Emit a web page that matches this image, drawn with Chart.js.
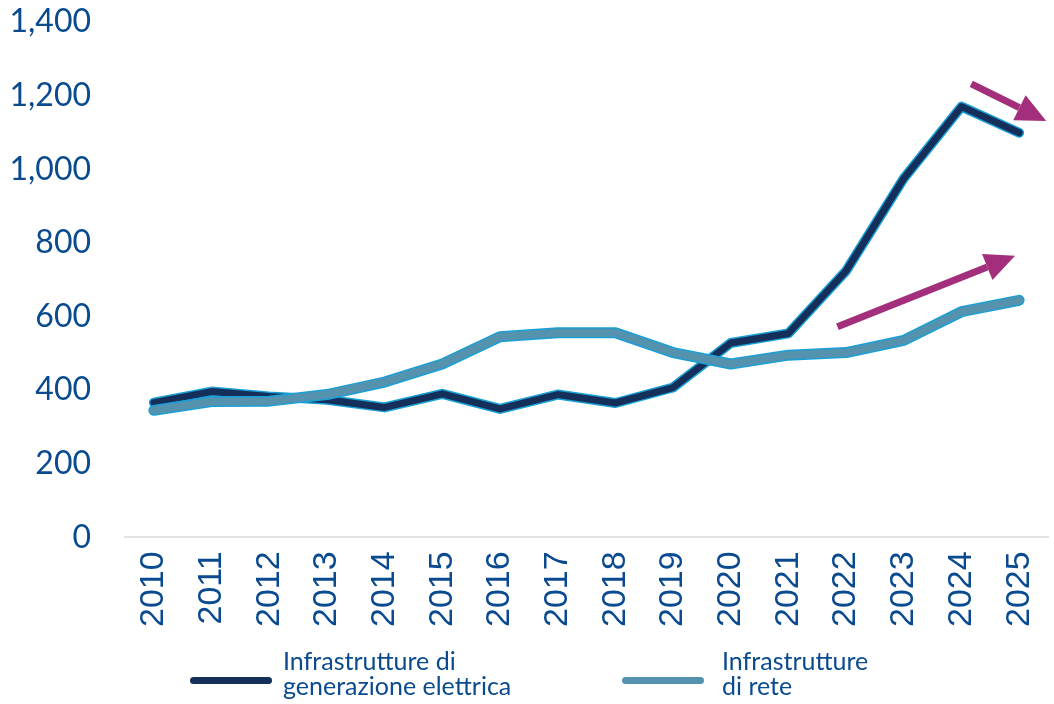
<!DOCTYPE html>
<html>
<head>
<meta charset="utf-8">
<script src="https://cdn.jsdelivr.net/npm/chart.js@4.4.1/dist/chart.umd.min.js"></script>
<style>
  html, body { margin: 0; padding: 0; background: #fff; }
  #wrap { position: relative; width: 1054px; height: 704px; }
  #chart { position: absolute; left: 0; top: 0; }
  .legend { position: absolute; top: 648px; font-family: Lato, "Open Sans", sans-serif; font-size: 25px; line-height: 25px; color: #0a4a8f; }
  .legend .swatch { position: absolute; width: 82px; height: 7px; border-radius: 4px; top: 29px; }
  .legend .txt { position: absolute; white-space: nowrap; }
</style>
</head>
<body>
<div id="wrap">
  <canvas id="chart" width="1054" height="704"></canvas>
  <div class="legend" id="legend"></div>
</div>
<script>
/* ===================== DATI ===================== */
const anni = ['2010','2011','2012','2013','2014','2015','2016','2017','2018','2019','2020','2021','2022','2023','2024','2025'];
const generazione = [366, 396, 383, 374, 353, 390, 349, 388, 365, 407, 528, 554, 724, 975, 1170, 1099];
const rete = [345, 369, 370, 388, 422, 471, 545, 556, 556, 502, 471, 495, 502, 535, 613, 644];
const yTicks = [0, 200, 400, 600, 800, 1000, 1200, 1400];
const nomiSerie = [['Infrastrutture di', 'generazione elettrica'], ['Infrastrutture', 'di rete']];

// frecce: [indice anno, valore] inizio e punta
const frecceDa = [[14.17, 1232], [11.85, 572]];
const frecceA = [[15.47, 1131], [14.93, 765]];

/* ===================== COLORI ===================== */
const blu = '#14305a';
const azzurro = '#5592ae';
const bordo = '#1aa0d6';
const testo = '#0a4a8f';
const magenta = '#a32f7c';

/* ===================== PLUGIN FRECCE ===================== */
const frecce = {
  id: 'frecce',
  afterDatasetsDraw(chart) {
    const x = chart.scales.x, y = chart.scales.y, ctx = chart.ctx;
    ctx.save();
    ctx.strokeStyle = magenta;
    ctx.fillStyle = magenta;
    ctx.lineWidth = 7;
    for (let i = 0; i < frecceDa.length; i++) {
      const x0 = x.getPixelForValue(frecceDa[i][0]), y0 = y.getPixelForValue(frecceDa[i][1]);
      const x1 = x.getPixelForValue(frecceA[i][0]), y1 = y.getPixelForValue(frecceA[i][1]);
      const a = Math.atan2(y1 - y0, x1 - x0);
      const len = 30, half = 14;
      const bx = x1 - len * Math.cos(a), by = y1 - len * Math.sin(a);
      ctx.beginPath();
      ctx.moveTo(x0, y0);
      ctx.lineTo(bx, by);
      ctx.stroke();
      ctx.beginPath();
      ctx.moveTo(x1, y1);
      ctx.lineTo(bx + half * Math.sin(a), by - half * Math.cos(a));
      ctx.lineTo(bx - half * Math.sin(a), by + half * Math.cos(a));
      ctx.closePath();
      ctx.fill();
    }
    ctx.restore();
  }
};

/* ===================== GRAFICO ===================== */
document.addEventListener('DOMContentLoaded', () => {
  const linea = (data, colore, spessore) => ({
    data: data,
    borderColor: colore,
    borderWidth: spessore,
    pointRadius: 0,
    tension: 0,
    borderJoinStyle: 'round',
    borderCapStyle: 'round',
    fill: false
  });

  new Chart(document.getElementById('chart').getContext('2d'), {
    type: 'line',
    data: {
      labels: anni,
      datasets: [
        linea(rete, azzurro, 8),
        linea(rete, bordo, 11),
        linea(generazione, blu, 7),
        linea(generazione, bordo, 10)
      ]
    },
    options: {
      responsive: false,
      animation: false,
      layout: { padding: { left: 4, right: 6, top: 22, bottom: 63 } },
      plugins: { legend: { display: false }, tooltip: { enabled: false } },
      scales: {
        x: {
          offset: true,
          grid: { display: false, drawTicks: false },
          border: { display: true, color: '#e3e3e3', width: 2 },
          ticks: {
            color: testo,
            font: { family: '"Liberation Sans", Arial, sans-serif', size: 34 },
            minRotation: 90, maxRotation: 90,
            padding: 14,
            autoSkip: false
          },
          afterFit: (s) => { s.paddingLeft = 0; s.paddingRight = 0; }
        },
        y: {
          min: 0, max: 1400,
          afterBuildTicks: (s) => { s.ticks = yTicks.map(v => ({ value: v })); },
          grid: { display: false, drawTicks: false },
          border: { display: false },
          ticks: {
            color: testo,
            font: { family: 'Lato, "Open Sans", sans-serif', size: 32 },
            padding: 34,
            callback: (v) => v.toLocaleString('en-US')
          },
          afterFit: (s) => { s.width = 121; s.paddingTop = 0; s.paddingBottom = 0; }
        }
      }
    },
    plugins: [frecce]
  });

  /* ===================== LEGENDA ===================== */
  const leg = document.getElementById('legend');
  const voci = [
    { colore: blu, sx: 190, tx: 283 },
    { colore: azzurro, sx: 622, tx: 722 }
  ];
  voci.forEach((v, i) => {
    const s = document.createElement('div');
    s.className = 'swatch';
    s.style.left = v.sx + 'px';
    s.style.background = v.colore;
    leg.appendChild(s);
    const t = document.createElement('div');
    t.className = 'txt';
    t.style.left = v.tx + 'px';
    t.innerHTML = nomiSerie[i].join('<br>');
    leg.appendChild(t);
  });
});
</script>
</body>
</html>
